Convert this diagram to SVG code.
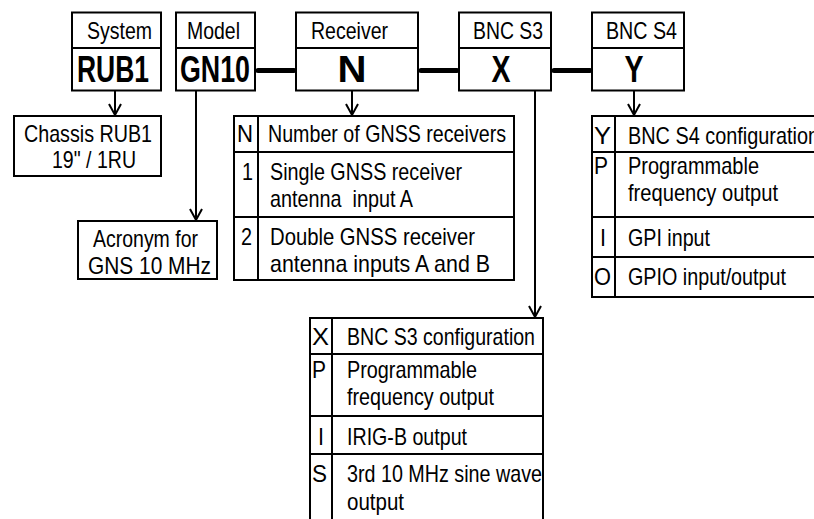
<svg xmlns="http://www.w3.org/2000/svg" width="814" height="519" viewBox="0 0 814 519">
<style>
.b{fill:#fff;stroke:#000;stroke-width:2}
.l{stroke:#000;stroke-width:2;fill:none}
.t{font-family:"Liberation Sans Narrow","Liberation Sans",Arial,sans-serif;font-size:24px;fill:#000}
.k{font-family:"Liberation Sans Narrow","Liberation Sans",Arial,sans-serif;font-size:37px;font-weight:bold;fill:#000;text-anchor:middle}
.c{stroke:#000;stroke-width:2;fill:none;marker-end:url(#a)}
.bar{stroke:#000;stroke-width:5;stroke-linecap:round}
</style>
<defs>
<marker id="a" markerUnits="userSpaceOnUse" markerWidth="16" markerHeight="16" viewBox="-13 -8 16 16" refX="0" refY="0" orient="auto">
<path d="M-11,-6 L0,0 L-11,6" fill="none" stroke="#000" stroke-width="2"/>
</marker>
</defs>
<g id="connectors">
<line class="bar" x1="258" y1="70.5" x2="294" y2="70.5"/>
<line class="bar" x1="421" y1="70.5" x2="457" y2="70.5"/>
<line class="bar" x1="554" y1="70.5" x2="590" y2="70.5"/>
<line class="c" x1="115" y1="91" x2="115" y2="115"/>
<line class="c" x1="196" y1="91" x2="196" y2="220"/>
<line class="c" x1="352" y1="91" x2="352" y2="115"/>
<line class="c" x1="535" y1="91" x2="535" y2="317"/>
<line class="c" x1="634" y1="91" x2="634" y2="115"/>
</g>
<g id="system">
<rect class="b" x="72" y="12.5" width="89" height="78"/>
<line class="l" x1="72" y1="48" x2="161" y2="48"/>
<text class="t" x="87" y="39" textLength="65" lengthAdjust="spacingAndGlyphs">System</text>
<text class="k" x="113" y="82" textLength="72" lengthAdjust="spacingAndGlyphs">RUB1</text>
</g>
<g id="model">
<rect class="b" x="176" y="12.5" width="79" height="78"/>
<line class="l" x1="176" y1="48" x2="255" y2="48"/>
<text class="t" x="187" y="39" textLength="53" lengthAdjust="spacingAndGlyphs">Model</text>
<text class="k" x="215" y="82" textLength="70" lengthAdjust="spacingAndGlyphs">GN10</text>
</g>
<g id="receiver">
<rect class="b" x="296" y="12.5" width="122" height="78"/>
<line class="l" x1="296" y1="48" x2="418" y2="48"/>
<text class="t" x="311" y="39" textLength="77" lengthAdjust="spacingAndGlyphs">Receiver</text>
<text class="k" x="352" y="82" textLength="29" lengthAdjust="spacingAndGlyphs">N</text>
</g>
<g id="bncs3">
<rect class="b" x="459" y="12.5" width="92" height="78"/>
<line class="l" x1="459" y1="48" x2="551" y2="48"/>
<text class="t" x="473" y="39" textLength="70" lengthAdjust="spacingAndGlyphs">BNC S3</text>
<text class="k" x="501" y="82" textLength="19" lengthAdjust="spacingAndGlyphs">X</text>
</g>
<g id="bncs4">
<rect class="b" x="592" y="12.5" width="92" height="78"/>
<line class="l" x1="592" y1="48" x2="684" y2="48"/>
<text class="t" x="606" y="39" textLength="71" lengthAdjust="spacingAndGlyphs">BNC S4</text>
<text class="k" x="634" y="82" textLength="19" lengthAdjust="spacingAndGlyphs">Y</text>
</g>
<g id="chassis">
<rect class="b" x="14" y="116" width="147" height="60"/>
<text class="t" x="24" y="142" textLength="128" lengthAdjust="spacingAndGlyphs">Chassis RUB1</text>
<text class="t" x="52" y="168" textLength="84" lengthAdjust="spacingAndGlyphs">19" / 1RU</text>
</g>
<g id="acronym">
<rect class="b" x="78" y="221" width="139" height="58"/>
<text class="t" x="93" y="247" textLength="105" lengthAdjust="spacingAndGlyphs">Acronym for</text>
<text class="t" x="88" y="274" textLength="123" lengthAdjust="spacingAndGlyphs">GNS 10 MHz</text>
</g>
<g id="receiver-table">
<rect class="b" x="234" y="116" width="280" height="164"/>
<line class="l" x1="258" y1="116" x2="258" y2="280"/>
<line class="l" x1="234" y1="152" x2="514" y2="152"/>
<line class="l" x1="234" y1="217" x2="514" y2="217"/>
<text class="t" x="237" y="142" textLength="16" lengthAdjust="spacingAndGlyphs">N</text>
<text class="t" x="268" y="142" textLength="238" lengthAdjust="spacingAndGlyphs">Number of GNSS receivers</text>
<text class="t" x="242" y="180" textLength="11" lengthAdjust="spacingAndGlyphs">1</text>
<text class="t" x="270" y="180" textLength="192" lengthAdjust="spacingAndGlyphs">Single GNSS receiver</text>
<text class="t" x="270" y="207" textLength="143" lengthAdjust="spacingAndGlyphs" xml:space="preserve">antenna  input A</text>
<text class="t" x="241" y="245" textLength="11" lengthAdjust="spacingAndGlyphs">2</text>
<text class="t" x="270" y="245" textLength="205" lengthAdjust="spacingAndGlyphs">Double GNSS receiver</text>
<text class="t" x="270" y="272" textLength="220" lengthAdjust="spacingAndGlyphs">antenna inputs A and B</text>
</g>
<g id="bncs4-table">
<rect class="b" x="592" y="116" width="233" height="181"/>
<line class="l" x1="615" y1="116" x2="615" y2="297"/>
<line class="l" x1="592" y1="152" x2="825" y2="152"/>
<line class="l" x1="592" y1="217" x2="825" y2="217"/>
<line class="l" x1="592" y1="257" x2="825" y2="257"/>
<text class="t" x="594" y="144" textLength="17" lengthAdjust="spacingAndGlyphs">Y</text>
<text class="t" x="628" y="144" textLength="191" lengthAdjust="spacingAndGlyphs">BNC S4 configuration</text>
<text class="t" x="594" y="174" textLength="14" lengthAdjust="spacingAndGlyphs">P</text>
<text class="t" x="628" y="174" textLength="131" lengthAdjust="spacingAndGlyphs">Programmable</text>
<text class="t" x="628" y="201" textLength="150" lengthAdjust="spacingAndGlyphs">frequency output</text>
<text class="t" x="600" y="246" textLength="6" lengthAdjust="spacingAndGlyphs">I</text>
<text class="t" x="628" y="246" textLength="82" lengthAdjust="spacingAndGlyphs">GPI input</text>
<text class="t" x="594" y="285" textLength="17" lengthAdjust="spacingAndGlyphs">O</text>
<text class="t" x="628" y="285" textLength="158" lengthAdjust="spacingAndGlyphs">GPIO input/output</text>
</g>
<g id="bncs3-table">
<rect class="b" x="310" y="318" width="233" height="215"/>
<line class="l" x1="332" y1="318" x2="332" y2="533"/>
<line class="l" x1="310" y1="354" x2="543" y2="354"/>
<line class="l" x1="310" y1="416" x2="543" y2="416"/>
<line class="l" x1="310" y1="454" x2="543" y2="454"/>
<text class="t" x="312" y="345" textLength="17" lengthAdjust="spacingAndGlyphs">X</text>
<text class="t" x="347" y="345" textLength="188" lengthAdjust="spacingAndGlyphs">BNC S3 configuration</text>
<text class="t" x="312" y="378" textLength="14" lengthAdjust="spacingAndGlyphs">P</text>
<text class="t" x="347" y="378" textLength="130" lengthAdjust="spacingAndGlyphs">Programmable</text>
<text class="t" x="347" y="405" textLength="147" lengthAdjust="spacingAndGlyphs">frequency output</text>
<text class="t" x="318" y="445" textLength="6" lengthAdjust="spacingAndGlyphs">I</text>
<text class="t" x="347" y="445" textLength="120" lengthAdjust="spacingAndGlyphs">IRIG-B output</text>
<text class="t" x="312" y="482" textLength="15" lengthAdjust="spacingAndGlyphs">S</text>
<text class="t" x="347" y="482" textLength="195" lengthAdjust="spacingAndGlyphs">3rd 10 MHz sine wave</text>
<text class="t" x="347" y="510" textLength="57" lengthAdjust="spacingAndGlyphs">output</text>
</g>
</svg>
